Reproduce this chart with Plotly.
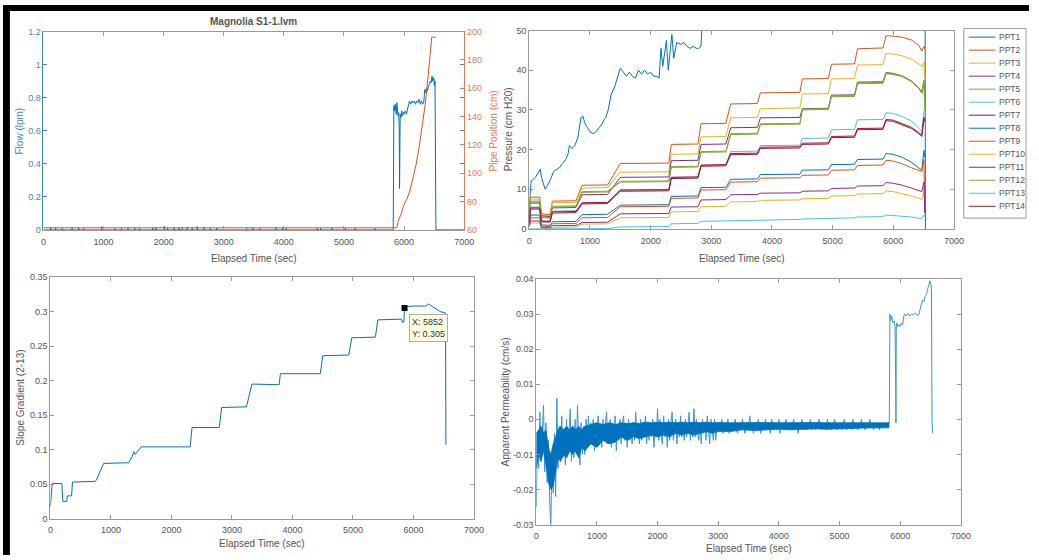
import numpy as np
import plotly.graph_objects as go

W, H = 1039, 560

# ---------------- Magnolia S1-1: flow and pipe position ----------------
flow_spike_t = [120, 202, 312, 476, 586, 668, 969, 1188, 1298, 1407, 1517, 1599, 1818, 1873,
                2010, 2065, 2174, 2256, 2311, 2393, 2475, 2557, 2667, 2776, 2886, 2995, 3379,
                3488, 3598, 3872, 3981, 4036, 4557, 4612, 4803, 5022, 5186, 5515]
flow_spike_v = [0.015, 0.012, 0.010, 0.014, 0.012, 0.010, 0.020, 0.010, 0.012, 0.010, 0.012,
                0.010, 0.012, 0.015, 0.020, 0.012, 0.015, 0.012, 0.014, 0.016, 0.012, 0.020,
                0.014, 0.012, 0.012, 0.018, 0.010, 0.012, 0.010, 0.015, 0.012, 0.010, 0.012,
                0.010, 0.012, 0.010, 0.010, 0.010]
flow_run_t = [5820, 5830, 5840, 5850, 5860, 5870, 5880, 5890, 5900, 5910, 5920, 5925, 5930, 5935,
              5950, 5960, 5975, 5990, 6000, 6020, 6040, 6060, 6075, 6090, 6110, 6130, 6150, 6170,
              6190, 6210, 6230, 6250, 6270, 6290, 6310, 6330, 6345, 6360, 6375, 6390, 6405, 6420,
              6435, 6450, 6465, 6480, 6495, 6505, 6515, 6525, 6530, 7000]
flow_run_v = [0.0, 0.75, 0.72, 0.76, 0.73, 0.70, 0.77, 0.72, 0.69, 0.71, 0.62, 0.25, 0.55, 0.70,
              0.68, 0.72, 0.69, 0.71, 0.70, 0.72, 0.70, 0.73, 0.77, 0.78, 0.76, 0.78, 0.77, 0.78,
              0.76, 0.78, 0.77, 0.79, 0.76, 0.78, 0.76, 0.78, 0.85, 0.83, 0.86, 0.84, 0.87, 0.88,
              0.90, 0.89, 0.93, 0.90, 0.92, 0.87, 0.90, 0.0, 0.0, 0.0]

pipe_t = [0, 5880, 5900, 5950, 6000, 6050, 6100, 6150, 6200, 6250, 6300, 6350, 6400, 6440, 6460, 6530]
pipe_v = [61.5, 61.5, 66, 71, 78, 82, 88, 96, 106, 118, 132, 148, 168, 190, 196, 196]

# ---------------- Pore pressure transducers ----------------
ppt1_t = [0, 30, 100, 180, 200, 260, 300, 350, 400, 450, 500, 550, 600, 640, 660, 700, 750, 800,
          850, 880, 920, 960, 1000, 1050, 1100, 1150, 1200, 1230, 1260, 1300, 1350, 1400, 1450,
          1500, 1550, 1600, 1650, 1700, 1750, 1800, 1850, 1900, 1950, 2000, 2050, 2100, 2140,
          2170, 2200, 2230, 2260, 2290, 2320, 2350, 2380, 2430, 2500, 2550, 2600, 2650, 2700,
          2760, 2790, 2830, 2860, 6525, 6530]
ppt1_v = [6, 12, 13, 15, 13, 10, 11, 12.5, 14.5, 15, 15.5, 16.5, 17.5, 19, 21, 20.3, 21, 23,
          28, 28.5, 26.5, 25.5, 24.5, 24, 24.5, 25.5, 26.5, 27.5, 28, 30, 34, 35.5, 38,
          40.5, 39.5, 38.5, 39.5, 38.5, 38, 40, 39, 40, 39, 39.5, 38.5, 38.5, 38,
          45.5, 41, 44.5, 47.5, 40, 44, 49, 43, 47, 46.5, 47, 46, 45.5, 46,
          45.5, 45.5, 46, 55, 55, -2]

ppt_t = [0, 20, 170, 200, 340, 380, 770, 870, 1290, 1500, 2300, 2340, 2780, 2830, 3240, 3320,
         3760, 3810, 4460, 4500, 4930, 4980, 5360, 5410, 5830, 5880, 6000, 6150, 6300, 6420,
         6470, 6505, 6520]
ppt2 = [3, 8, 8, 3.8, 3.6, 7, 7.1, 11, 11.1, 16.5, 16.6, 21.3, 21.4, 26.5, 26.6, 31.5, 31.6,
        34.3, 34.4, 37.8, 37.9, 41.5, 41.6, 45.4, 45.6, 48.7, 48.6, 48.3, 47.6, 46.3, 44.8, 46, 45.3]
ppt3 = [2.5, 7.5, 7.5, 3.5, 3.3, 6.6, 6.7, 10.3, 10.4, 14.3, 14.4, 18.8, 18.9, 23.2, 23.3, 28,
        28.1, 30.3, 30.5, 34, 34.1, 37.8, 37.9, 41.3, 41.4, 44.2, 44.1, 43.6, 42.8, 41.6, 40.8, 42, 38]
ppt4 = [2.2, 6.5, 6.5, 3.3, 3.1, 5.3, 5.4, 8.6, 8.7, 13, 13.1, 17.2, 17.3, 21.3, 21.4, 25.5,
        25.6, 28, 28.1, 30.3, 30.4, 33.7, 33.8, 37, 37.1, 39.4, 39.2, 38.5, 37.2, 35.5, 34.2, 37.3, 33]
ppt5 = [2.4, 7, 7, 3, 2.8, 5.7, 5.8, 9.4, 9.5, 12, 12.1, 15.7, 15.8, 19.5, 19.6, 24, 24.1,
        26.5, 26.6, 30.2, 30.3, 33.5, 33.6, 36.8, 36.9, 39.3, 39.1, 38.6, 37.3, 35.6, 34.6, 37.5, 30]
ppt6 = [1.8, 5.5, 5.5, 2, 1.9, 4.5, 4.6, 6.5, 6.6, 9.8, 9.9, 13, 13.1, 16, 16.1, 19.5, 19.6,
        21, 21.1, 22.8, 22.9, 25, 25.1, 27.5, 27.6, 29.3, 29.1, 28.3, 27.2, 25.5, 24.6, 29.8, 30]
ppt7 = [1.6, 5, 5, 1.8, 1.7, 4, 4.1, 6.3, 6.4, 9.5, 9.6, 12.7, 12.8, 15.8, 15.9, 18.7, 18.8,
        20.3, 20.4, 21.3, 21.4, 23, 23.1, 25, 25.1, 27.3, 27.1, 26.3, 25.3, 24, 23.3, 27.8, 28]
ppt8 = [1.2, 3.5, 3.5, 1, 0.9, 1.8, 1.9, 3.6, 3.7, 6, 6.1, 8.2, 8.3, 10.4, 10.5, 12.5, 12.6,
        13.7, 13.8, 14.8, 14.9, 16.2, 16.3, 17.5, 17.6, 19, 18.8, 18, 16.8, 15.4, 14.8, 19.8, 18]
ppt9 = [1, 2.8, 2.8, 0.7, 0.6, 1.3, 1.4, 2.8, 2.9, 5.6, 5.7, 7.7, 7.8, 9.8, 9.9, 11.8, 11.9,
        12.8, 12.9, 13.5, 13.6, 14.8, 14.9, 16, 16.1, 17.3, 17.1, 16.4, 15.4, 14.8, 14.5, 17.5, 4]
ppt10 = [0.5, 1.5, 1.5, 0.2, 0.2, 0.4, 0.5, 1.2, 1.3, 2.8, 2.9, 4.3, 4.4, 5.6, 5.7, 6.8, 6.9,
         7.2, 7.3, 7.6, 7.7, 8.3, 8.4, 8.8, 8.9, 9.6, 9.4, 8.9, 8.3, 7.7, 7.4, 9.5, 9]
ppt11 = [0.7, 2, 2, 0.3, 0.3, 0.8, 0.9, 1.6, 1.7, 3.8, 3.9, 5.5, 5.6, 7.3, 7.4, 8.6, 8.7,
         9, 9.1, 9.5, 9.6, 10.2, 10.3, 10.8, 10.9, 11.7, 11.5, 11, 10.3, 9.7, 9.4, 11.8, 4]
ppt12 = [2.3, 6.8, 6.8, 2.9, 2.7, 5.5, 5.6, 9.2, 9.3, 11.8, 11.9, 15.5, 15.6, 19.3, 19.4, 23.8,
         23.9, 26.3, 26.4, 30.0, 30.1, 33.3, 33.4, 36.6, 36.7, 39.1, 38.9, 38.4, 37.1, 35.4, 34.4, 37.2, 31]
ppt13 = [0, 0, 0, 0, 0, 0, 0, 0, 0.1, 0.5, 0.6, 1.3, 1.4, 1.9, 2, 2.2, 2.3, 2.3, 2.4, 2.5, 2.6,
         2.7, 2.8, 3, 3.1, 3.5, 3.4, 3.2, 3, 2.7, 2.6, 3.6, 3]
ppt14 = [1.8, 5.3, 5.3, 2.0, 1.9, 4.3, 4.4, 6.6, 6.7, 9.8, 9.9, 13.0, 13.1, 16.1, 16.2, 19.0,
         19.1, 20.6, 20.7, 21.6, 21.7, 23.3, 23.4, 25.3, 25.4, 27.6, 27.4, 26.6, 25.6, 24.3, 23.6, 28.1, 27]

ppt_names = ["PPT%d" % i for i in range(1, 15)]
ppt_levels = [ppt2, ppt3, ppt4, ppt5, ppt6, ppt7, ppt8, ppt9, ppt10, ppt11, ppt12, ppt13, ppt14]

# ---------------- Slope gradient between PPT2 and PPT13 ----------------
grad_t = [0, 30, 190, 205, 270, 280, 350, 365, 740, 760, 880, 1290, 1340, 1380, 1400, 1420, 1500,
          2310, 2340, 2790, 2830, 3240, 3330, 3780, 3800, 4460, 4500, 4930, 4980, 5370, 5410,
          5800, 5820, 5840, 5852, 5870, 6000, 6200, 6250, 6350, 6440, 6530, 6535]
grad_v = [0.018, 0.051, 0.051, 0.025, 0.025, 0.033, 0.033, 0.053, 0.054, 0.056, 0.080, 0.081,
          0.088, 0.097, 0.093, 0.095, 0.104, 0.104, 0.132, 0.132, 0.161, 0.162, 0.195, 0.194,
          0.210, 0.210, 0.236, 0.237, 0.262, 0.263, 0.288, 0.289, 0.284, 0.285, 0.305, 0.307,
          0.308, 0.308, 0.311, 0.305, 0.300, 0.298, 0.107]
tip_x, tip_y = 5852, 0.305

# ---------------- Apparent permeability (1e-3 cm/s) ----------------
# dense core of the scatter: lower / upper edge of the band
band_t = [0, 40, 80, 120, 160, 200, 240, 280, 320, 360, 400,
          450, 500, 550, 600, 650, 700, 750, 800,
          900, 1000, 1100, 1200, 1300, 1400, 1500, 1600, 1700, 1800, 1900, 2000, 2100, 2200,
          2300, 2400, 2500, 2600, 2700, 2800, 2900, 3000,
          3200, 3400, 3600, 3800, 4000, 4200, 4400, 4600, 4800, 5000, 5200, 5400, 5600,
          5820]
band_lo = [-14, -10, -12, -9, -13, -18, -20, -19, -15, -11, -12,
           -10, -11, -9, -10, -9, -11, -8, -9,
           -7, -8, -6, -7, -6.5, -5, -6, -5, -5.5, -5, -4.5, -5, -4.5, -5,
           -4, -4.5, -4, -4.5, -4, -3.5, -4, -3.5,
           -3.5, -3, -3.2, -3, -2.8, -3, -2.8, -2.7, -2.8, -2.6, -2.6, -2.5, -2.5,
           -2.4]
band_hi = [-4, -3, -2, -4, -3, -8, -10, -7, -5, -3, -2,
           -3, -2, -3, -2, -3, -2, -3, -2,
           -1.5, -1, -1.5, -1, -1.5, -1, -1.2, -1, -1.2, -0.8, -1, -0.8, -1, -0.8,
           -1, -0.8, -1, -0.8, -1, -0.8, -1, -0.9,
           -1, -0.9, -1, -0.9, -1, -0.9, -1, -0.9, -1, -1, -1, -1, -1,
           -1]

# individual readings, one every 20 s
PERM_STEP = 20
perm_milli = [
    # 0 - 780 s
    -25, -5, -14, 2, -12, -3, 4, -15, -1, -18,
    -6, -22, -31, -10, -21, -4, -22, 6, -14, -2,
    -12, 1, -11, -3, -13, 0, -10, -4, 3, -12,
    -2, -11, 0, -10, 4, -7, -13, -1, -10, -2,
    # 800 - 2980 s
    -10, 0, -6, 1, -7, -1, -5, 0, -9, -1,
    -6, 1, -7, -2, -8, 0, -6, -1, 2, -7,
    -5, 0, -8, -1, -6, 1, -9, -2, -6, 0,
    -7, -1, 1, -6, -1, -8, 0, -6, -2, -7,
    -1, -6, 2, -5, -1, -7, 0, -6, -1, -5,
    1, -7, -2, -6, -1, -5, 0, -8, -1, -5,
    3, -6, 0, -5, -7, 1, -5, -1, -8, 0,
    -6, -1, 2, -6, -2, 0, -7, -1, -5, 1,
    -5, -1, -6, 0, -5, -1, 2, -6, -2, -5,
    3, -5, 0, -4, -6, -1, -7, 0, -4, -1,
    -6, 1, -4, -7, 0, -3, -6, 0, -6, -1,
    # 3000 - 5780 s
    -1, -3, -2, 0, -4, -2, -1, -3, 0, -4, -2, -1, -3, -2, 0, -3, -4, -1, -2, -3,
    0, -2, -4, -1, -3, -2, 1, -3, -1, -4, -2, -1, -3, 0, -2, -4, -1, -3, -2, 0,
    -3, -1, -2, -4, 0, -2, -3, -1, -2, -3, 0, -4, -1, -2, -3, -1, 0, -3, -2, -1,
    -2, -3, 0, -1, -3, -2, -4, -1, -2, 0, -3, -1, -2, -3, -1, -2, 0, -3, -1, -2,
    -3, -1, -2, 0, -2, -3, -1, -2, -1, -3, 0, -2, -1, -3, -2, -1, 0, -2, -3, -1,
    -2, -1, -3, -1, 0, -2, -3, -1, -2, -1, -3, 0, -2, -1, -2, -3, -1, -2, 0, -2,
    -1, -3, -2, -1, -2, 0, -2, -1, -3, -1, -2, -1, -2, -3, -1, -2, -1, -2, -1, -2,
    # 5800 s
    -1,
]
perm_tail_t = [5820, 5830, 5840, 5860, 5880, 5900, 5915, 5925, 5930, 5935, 5945, 5960, 5980, 6000,
               6020, 6040, 6060, 6080, 6100, 6130, 6160, 6190, 6220, 6250, 6280, 6310, 6330, 6350,
               6370, 6390, 6410, 6430, 6450, 6470, 6490, 6505, 6515, 6525, 6535]
perm_tail_milli = [-1, 30, 28, 29.5, 27.5, 28, 26.5, 12, -1, 26, 27.5, 26.5, 27, 26.5, 27.5, 27,
                   29.5, 30, 29.5, 30.2, 29.5, 30, 29.8, 30.3, 29.6, 30, 32, 33, 34, 33.5, 35, 35.5,
                   37, 38, 39.5, 38.5, 37, -1, -4]

# ---------------- styling ----------------
BLUE, ORANGE, YELLOW, PURPLE = "#0072BD", "#D95319", "#EDB120", "#7E2F8E"
GREEN, CYAN, DARKRED = "#77AC30", "#4DBEEE", "#A2142F"
ppt_colors = [BLUE, ORANGE, YELLOW, PURPLE, GREEN, CYAN, DARKRED,
              BLUE, ORANGE, YELLOW, PURPLE, GREEN, CYAN, DARKRED]
FONT = "Liberation Sans, Arial, Helvetica, sans-serif"
TXT = "#555555"
AX = "#9a9a9a"
SPIKE = "#3d93d6"


def px_x(p):
    return p / W


def px_y(p):
    return 1 - p / H


def axis(dom, anchor, rng, dtick=None, color=TXT, line=AX, **kw):
    d = dict(domain=dom, anchor=anchor, range=rng, showline=True, linecolor=line, linewidth=1,
             mirror="ticks", ticks="inside", ticklen=4, tickcolor=line, showgrid=False,
             zeroline=False, tickfont=dict(family=FONT, size=9, color=color), fixedrange=True)
    if dtick is not None:
        d["dtick"] = dtick
    d.update(kw)
    return d


fig = go.Figure()

# flow + pipe position
spx, spy = [], []
for t, v in zip(flow_spike_t, flow_spike_v):
    spx += [t, t, t]
    spy += [0, v, 0]
fx = [0] + spx + flow_run_t
fy = [0] + spy + flow_run_v
fig.add_trace(go.Scatter(x=fx, y=fy, mode="lines", line=dict(color=BLUE, width=1),
                         xaxis="x", yaxis="y", showlegend=False))
fig.add_trace(go.Scatter(x=pipe_t, y=pipe_v, mode="lines", line=dict(color=ORANGE, width=1),
                         xaxis="x", yaxis="y2", showlegend=False))

# pressures
fig.add_trace(go.Scatter(x=ppt1_t, y=ppt1_v, mode="lines", line=dict(color=ppt_colors[0], width=1),
                         xaxis="x3", yaxis="y3", name=ppt_names[0], showlegend=False))
for i, lv in enumerate(ppt_levels, start=1):
    fig.add_trace(go.Scatter(x=ppt_t, y=lv, mode="lines", line=dict(color=ppt_colors[i], width=1),
                             xaxis="x3", yaxis="y3", name=ppt_names[i], showlegend=False))

# slope gradient
fig.add_trace(go.Scatter(x=grad_t, y=grad_v, mode="lines", line=dict(color=BLUE, width=1),
                         xaxis="x4", yaxis="y4", showlegend=False))
fig.add_trace(go.Scatter(x=[tip_x], y=[tip_y], mode="markers",
                         marker=dict(symbol="square", size=6, color="black"),
                         xaxis="x4", yaxis="y4", showlegend=False))

# apparent permeability
perm_t0 = [i * PERM_STEP for i in range(len(perm_milli))]
pt = perm_t0 + perm_tail_t
pv = [m / 1000 for m in perm_milli] + [m / 1000 for m in perm_tail_milli]
fig.add_trace(go.Scatter(x=pt, y=pv, mode="lines", line=dict(color=SPIKE, width=1),
                         xaxis="x5", yaxis="y5", showlegend=False))
fig.add_trace(go.Scatter(x=band_t, y=[m / 1000 for m in band_lo], mode="lines",
                         line=dict(color=BLUE, width=0.8), xaxis="x5", yaxis="y5",
                         showlegend=False))
fig.add_trace(go.Scatter(x=band_t, y=[m / 1000 for m in band_hi], mode="lines",
                         line=dict(color=BLUE, width=0.8), fill="tonexty", fillcolor=BLUE,
                         xaxis="x5", yaxis="y5", showlegend=False))

perm_ticks = [-0.03, -0.02, -0.01, 0, 0.01, 0.02, 0.03, 0.04]
perm_text = ["-0.03", "-0.02", "-0.01", "0", "0.01", "0.02", "0.03", "0.04"]

dA_x, dA_y = [px_x(41), px_x(467)], [px_y(229), px_y(27)]
dB_x, dB_y = [px_x(533), px_x(963)], [px_y(228), px_y(26)]
dC_x, dC_y = [px_x(48), px_x(477)], [px_y(523), px_y(277)]
dD_x, dD_y = [px_x(540), px_x(970)], [px_y(529), px_y(279)]

FLOWC, PIPEC = "#3f86c6", "#e07a55"
XSO = 3  # gap between x tick labels and axis

fig.update_layout(
    width=W, height=H, margin=dict(l=0, r=0, t=0, b=0),
    paper_bgcolor="white", plot_bgcolor="white", showlegend=False,
    font=dict(family=FONT, color=TXT),
    xaxis=axis(dA_x, "y", [0, 7000], 1000, ticklabelstandoff=XSO),
    yaxis=axis(dA_y, "x", [0, 1.2], 0.2, color=FLOWC, line=FLOWC),
    yaxis2=axis(dA_y, "x", [60, 200], 20, color=PIPEC, line=PIPEC, overlaying="y",
                side="right", mirror=False),
    xaxis3=axis(dB_x, "y3", [0, 7000], 1000, ticklabelstandoff=XSO),
    yaxis3=axis(dB_y, "x3", [0, 50], 10),
    xaxis4=axis(dC_x, "y4", [0, 7000], 1000, ticklabelstandoff=XSO),
    yaxis4=axis(dC_y, "x4", [0, 0.35], 0.05),
    xaxis5=axis(dD_x, "y5", [0, 7000], 1000, ticklabelstandoff=XSO),
    yaxis5=axis(dD_y, "x5", [-0.03, 0.04], tickmode="array", tickvals=perm_ticks,
                ticktext=perm_text),
)

ann = []


def label(text, x, y, angle=0, size=10, color=TXT, bold=False):
    ann.append(dict(text=("<b>%s</b>" % text) if bold else text, x=px_x(x), y=px_y(y),
                    xref="paper", yref="paper", showarrow=False, textangle=angle,
                    xanchor="center", yanchor="middle",
                    font=dict(family=FONT, size=size, color=color)))


label("Magnolia S1-1.lvm", 254, 17, bold=True)
label("Elapsed Time (sec)", 254, 258)
label("Flow (lpm)", 17, 128, angle=-90, color=FLOWC)
label("Pipe Position (cm)", 497, 128, angle=-90, color=PIPEC)
label("Elapsed Time (sec)", 748, 258)
label("Pressure (cm H20)", 512, 127, angle=-90)
label("Elapsed Time (sec)", 262, 548)
label("Slope Gradient (2-13)", 18, 400, angle=-90)
label("Elapsed Time (sec)", 755, 553)
label("Apparent Permeability (cm/s)", 509, 404, angle=-90)

# data tip
ann.append(dict(text="X: 5852<br>Y: 0.305", x=tip_x, y=tip_y, xref="x4", yref="y4",
                showarrow=False, xanchor="left", yanchor="top", xshift=4, yshift=-6,
                align="left", bgcolor="#ffffe6", bordercolor="#b0b0a0", borderwidth=1, borderpad=2,
                font=dict(family=FONT, size=9, color="#333333")))

# legend for the pressure panel
shapes = []
leg_x0, leg_x1, leg_y0, leg_y1 = 973, 1036, 24, 217
shapes.append(dict(type="rect", xref="paper", yref="paper", x0=px_x(leg_x0), x1=px_x(leg_x1),
                   y0=px_y(leg_y1), y1=px_y(leg_y0), line=dict(color=AX, width=1),
                   fillcolor="white"))
for i, (nm, c) in enumerate(zip(ppt_names, ppt_colors)):
    yy = 32.7 + i * 13.25
    shapes.append(dict(type="line", xref="paper", yref="paper", x0=px_x(978), x1=px_x(1005),
                       y0=px_y(yy), y1=px_y(yy), line=dict(color=c, width=1)))
    ann.append(dict(text=nm, x=px_x(1006.5), y=px_y(yy), xref="paper", yref="paper",
                    showarrow=False, xanchor="left", yanchor="middle",
                    font=dict(family=FONT, size=8.5, color=TXT)))

# dark frame along the top and left edges
shapes.append(dict(type="rect", xref="paper", yref="paper", x0=0, x1=1, y0=px_y(6), y1=1,
                   fillcolor="black", line=dict(width=0), layer="above"))
shapes.append(dict(type="rect", xref="paper", yref="paper", x0=0, x1=px_x(7), y0=0, y1=1,
                   fillcolor="black", line=dict(width=0), layer="above"))

fig.update_layout(annotations=ann, shapes=shapes)
fig.write_html("out.html")
